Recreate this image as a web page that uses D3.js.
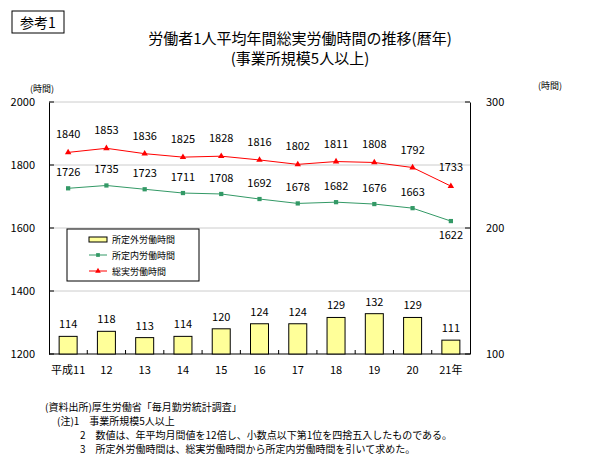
<!DOCTYPE html>
<html><head><meta charset="utf-8">
<script src="https://cdn.jsdelivr.net/npm/d3@7"></script>
<style>body{margin:0;background:#fff}text{font-family:"Noto Sans CJK JP",sans-serif}</style>
</head><body><svg id="c" width="600" height="458"></svg>
<script>
var years = ["平成11","12","13","14","15","16","17","18","19","20","21年"];
var total = [1840,1853,1836,1825,1828,1816,1802,1811,1808,1792,1733];
var scheduled = [1726,1735,1723,1711,1708,1692,1678,1682,1676,1663,1622];
var overtime = [114,118,113,114,120,124,124,129,132,129,111];
var leftTicks = [1200,1400,1600,1800,2000];
var rightTicks = [100,200,300];

var svg = d3.select("#c");
var m = {l:49, r:470, t:102, b:354};

var x = d3.scaleBand().domain(years).range([m.l, m.r]);
var yL = d3.scaleLinear().domain([1200,2000]).range([m.b, m.t]);
var yR = d3.scaleLinear().domain([100,300]).range([m.b, m.t]);

//title box
svg.append("rect").attr("x",12).attr("y",11).attr("width",52).attr("height",22).attr("fill","none").attr("stroke","#000");
svg.append("text").attr("x",38).attr("y",28).attr("text-anchor","middle").attr("font-size",14).text("参考1");
svg.append("text").attr("x",300).attr("y",44).attr("text-anchor","middle").attr("font-size",15).text("労働者1人平均年間総実労働時間の推移(暦年)");
svg.append("text").attr("x",300).attr("y",64).attr("text-anchor","middle").attr("font-size",15).text("(事業所規模5人以上)");

svg.append("text").attr("x",30).attr("y",92).attr("font-size",9).text("(時間)");
svg.append("text").attr("x",538).attr("y",89).attr("font-size",9).text("(時間)");

//gridlines
svg.selectAll(".grid").data(leftTicks.slice(1)).enter().append("line")
	.attr("x1",m.l).attr("x2",m.r).attr("y1",d=>yL(d)).attr("y2",d=>yL(d))
	.attr("stroke","#ccc");

//axes
var axL = svg.append("g").attr("transform","translate("+m.l+",0)")
	.call(d3.axisLeft(yL).tickValues(leftTicks).tickFormat(d3.format("d")).tickSize(0).tickPadding(14));
var axR = svg.append("g").attr("transform","translate("+m.r+",0)")
	.call(d3.axisRight(yR).tickValues(rightTicks).tickSize(0).tickPadding(16));
[axL,axR].forEach(function(a){ a.selectAll("text").attr("font-size",11).attr("font-family","Liberation Sans, Arial"); });
svg.selectAll(".tickL").data(leftTicks).enter().append("line")
	.attr("x1",m.l).attr("x2",m.l+5).attr("y1",d=>yL(d)).attr("y2",d=>yL(d)).attr("stroke","#000");
svg.selectAll(".tickR").data(rightTicks).enter().append("line")
	.attr("x1",m.r-5).attr("x2",m.r).attr("y1",d=>yR(d)).attr("y2",d=>yR(d)).attr("stroke","#000");

var xa = svg.append("g").attr("transform","translate(0,"+m.b+")")
	.call(d3.axisBottom(x).tickSize(0).tickPadding(12));
xa.select(".domain").remove();
xa.selectAll("text").attr("font-size",11);
svg.selectAll(".xt").data(years.slice(1)).enter().append("line")
	.attr("x1",d=>x(d)).attr("x2",d=>x(d)).attr("y1",m.b).attr("y2",m.b-4).attr("stroke","#000");
svg.append("line").attr("x1",m.l).attr("x2",m.r).attr("y1",m.b).attr("y2",m.b).attr("stroke","#000");

//bars
var bw = 18;
svg.selectAll(".bar").data(overtime).enter().append("rect")
	.attr("x",(d,i)=>x(years[i])+x.bandwidth()/2-bw/2).attr("width",bw)
	.attr("y",d=>yR(d)).attr("height",d=>m.b-yR(d))
	.attr("fill","#ffff99").attr("stroke","#000");
svg.selectAll(".barl").data(overtime).enter().append("text")
	.attr("x",(d,i)=>x(years[i])+x.bandwidth()/2).attr("y",d=>yR(d)-8)
	.attr("text-anchor","middle").attr("font-size",11).attr("font-family","Liberation Sans, Arial").text(d=>d);

function series(vals,color,marker,dy){
	var cx = (d,i)=>x(years[i])+x.bandwidth()/2;
	svg.append("path").datum(vals).attr("fill","none").attr("stroke",color).attr("stroke-width",1)
		.attr("d",d3.line().x(cx).y(d=>yL(d)));
	svg.selectAll(null).data(vals).enter().append("path")
		.attr("transform",(d,i)=>"translate("+cx(d,i)+","+yL(d)+")")
		.attr("d",d3.symbol().type(marker).size(18)).attr("fill",color);
	svg.selectAll(null).data(vals).enter().append("text")
		.attr("x",cx).attr("y",(d,i)=>yL(d)+dy(i))
		.attr("text-anchor","middle").attr("font-size",11).attr("font-family","Liberation Sans, Arial").text(d=>d);
}
series(total,"#ff0000",d3.symbolTriangle,i=>i==10?-15:-14);
series(scheduled,"#339966",d3.symbolSquare,i=>i==10?18:-12);

//legend
var lg = svg.append("g").attr("transform","translate(67,229)");
lg.append("rect").attr("width",132).attr("height",52).attr("fill","#fff").attr("stroke","#000");
lg.append("rect").attr("x",22).attr("y",8).attr("width",18).attr("height",5).attr("fill","#ffff99").attr("stroke","#000");
lg.append("line").attr("x1",22).attr("x2",40).attr("y1",26).attr("y2",26).attr("stroke","#339966");
lg.append("path").attr("transform","translate(31,26)").attr("d",d3.symbol().type(d3.symbolSquare).size(14)).attr("fill","#339966");
lg.append("line").attr("x1",22).attr("x2",40).attr("y1",42).attr("y2",42).attr("stroke","#ff0000");
lg.append("path").attr("transform","translate(31,42)").attr("d",d3.symbol().type(d3.symbolTriangle).size(14)).attr("fill","#ff0000");
["所定外労働時間","所定内労働時間","総実労働時間"].forEach(function(t,i){
	lg.append("text").attr("x",45).attr("y",14+i*16).attr("font-size",9).text(t);
});

//notes
var notes = [[45,411,"(資料出所)厚生労働省「毎月勤労統計調査」"],[57,425,"(注)1　事業所規模5人以上"],[80,439,"2　数値は、年平均月間値を12倍し、小数点以下第1位を四捨五入したものである。"],[80,453,"3　所定外労働時間は、総実労働時間から所定内労働時間を引いて求めた。"]];
notes.forEach(function(n){ svg.append("text").attr("x",n[0]).attr("y",n[1]).attr("font-size",10).text(n[2]); });
</script></body></html>
